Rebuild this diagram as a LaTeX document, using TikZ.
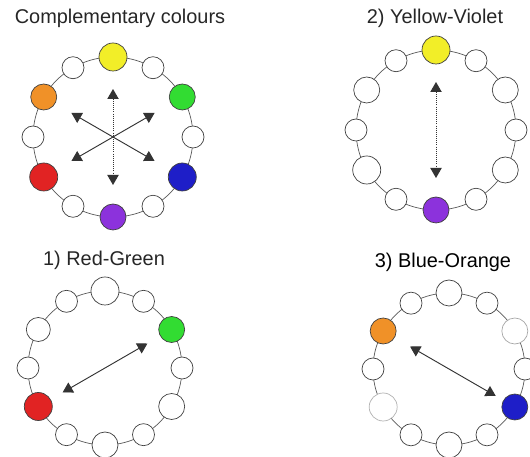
\documentclass[tikz,border=0pt]{standalone}
\usepackage{fontspec}
\setmainfont{Liberation Sans}
\usetikzlibrary{arrows.meta, calc}
\definecolor{cyellow}{RGB}{242,238,40}
\definecolor{cgreen}{RGB}{50,220,50}
\definecolor{cblue}{RGB}{30,30,200}
\definecolor{cviolet}{RGB}{140,50,220}
\definecolor{cred}{RGB}{225,35,35}
\definecolor{corange}{RGB}{240,145,40}

\begin{document}
\begin{tikzpicture}[
    x=0.03cm, y=0.03cm,
    dot/.style={circle, draw=black!75, line width=0.6pt, fill=white, inner sep=0pt},
    ring/.style={draw=black!65, line width=0.6pt},
    pair/.style={<->, >={Triangle[length=0.3cm, width=0.34cm]}, line width=0.8pt, draw=black!80},
    title/.style={font=\fontsize{17}{19}\selectfont, text=black!85},
]
\useasboundingbox (0,0) rectangle (530,457);

% Panel 0: all three pairs
\node[title] (t0) at (120,439) {Complementary colours};
\coordinate (c0) at (113,320);
\draw[ring] (c0) circle (80);
\foreach \a/\s/\c [count=\i] in {90/14/cyellow, 60/11/white, 30/13/cgreen, 0/11/white, -30/14/cblue, -60/11/white, -90/13/cviolet, -120/11/white, -150/14/cred, 180/11/white, 150/13/corange, 120/11/white}
    \node[dot, fill=\c, minimum size=\s*0.06cm] (a\i) at ($(c0)+(\a:80)$) {};
\draw[pair, densely dotted, shorten >=0.96cm, shorten <=0.96cm] (a1.center) -- (a7.center);
\draw[pair, shorten >=0.96cm, shorten <=0.96cm] (a11.center) -- (a5.center);
\draw[pair, shorten >=0.96cm, shorten <=0.96cm] (a3.center) -- (a9.center);

% Panel 2: yellow-violet
\node[title] (t2) at (435,439) {2) Yellow-Violet};
\coordinate (c2) at (436,327);
\draw[ring] (c2) circle (80);
\foreach \a/\s/\c [count=\i] in {90/14/cyellow, 60/11/white, 30/13/white, 0/11/white, -30/13/white, -60/11/white, -90/13/cviolet, -120/11/white, -150/14/white, 180/11/white, 150/13/white, 120/11/white}
    \node[dot, fill=\c, minimum size=\s*0.06cm] (b\i) at ($(c2)+(\a:80)$) {};
\draw[pair, densely dotted, shorten >=0.96cm, shorten <=0.96cm] (b1.center) -- (b7.center);

% Panel 1: red-green
\node[title] (t1) at (104,197) {1) Red-Green};
\coordinate (c1) at (105,89);
\draw[ring] (c1) circle (77);
\foreach \a/\s/\c [count=\i] in {90/14/white, 60/11/white, 30/13/cgreen, 0/11/white, -30/13/white, -60/11/white, -90/13/white, -120/11/white, -150/14/cred, 180/11/white, 150/12/white, 120/11/white}
    \node[dot, fill=\c, minimum size=\s*0.06cm] (r\i) at ($(c1)+(\a:77)$) {};
\draw[pair, shorten >=0.84cm, shorten <=0.84cm] (r3.center) -- (r9.center);

% Panel 3: blue-orange
\node[title, text=black] (t3) at (443,195) {3) Blue-Orange};
\coordinate (c3) at (449,88);
\draw[ring] (c3) circle (76);
\foreach \a/\s/\c/\d [count=\i] in {90/13/white/black!75, 60/11/white/black!75, 30/13/white/black!35, 0/11/white/black!75, -30/13/cblue/black!75, -60/11/white/black!75, -90/13/white/black!75, -120/11/white/black!75, -150/14/white/black!30, 180/11/white/black!75, 150/13/corange/black!75, 120/11/white/black!75}
    \node[dot, fill=\c, draw=\d, minimum size=\s*0.06cm] (o\i) at ($(c3)+(\a:76)$) {};
\draw[pair, shorten >=0.66cm, shorten <=0.93cm] (o11.center) -- (o5.center);

\end{tikzpicture}
\end{document}
